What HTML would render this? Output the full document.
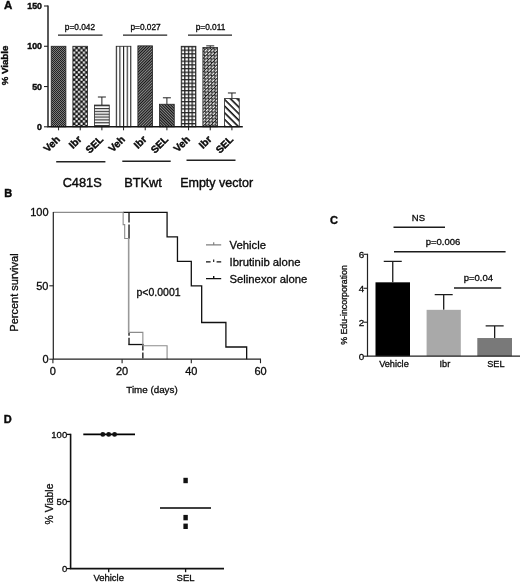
<!DOCTYPE html>
<html><head><meta charset="utf-8"><title>Figure</title>
<style>
html,body{margin:0;padding:0;background:#fff;}
body{width:520px;height:583px;overflow:hidden;}
svg{display:block;filter:blur(0.3px);}
text{font-family:"Liberation Sans",sans-serif;fill:#0a0a0a;stroke:#0a0a0a;stroke-width:0.3px;paint-order:stroke;}
.b{font-weight:bold;stroke-width:0.4px;}
</style></head><body>
<svg width="520" height="583" viewBox="0 0 520 583">
<defs>
<pattern id="p1" width="2" height="2" patternUnits="userSpaceOnUse"><rect width="2" height="2" fill="#7a7a7a"/><rect width="1" height="1" fill="#222"/><rect x="1" y="1" width="1" height="1" fill="#222"/></pattern>
<pattern id="p2" width="4.9" height="4.9" patternUnits="userSpaceOnUse" patternTransform="translate(72.9 46.6)"><rect width="4.9" height="4.9" fill="#111"/><rect x="0.15" y="0.15" width="2.15" height="2.15" fill="#fff"/><rect x="2.6" y="2.6" width="2.15" height="2.15" fill="#fff"/></pattern>
<pattern id="p3" width="3" height="2.85" patternUnits="userSpaceOnUse" patternTransform="translate(0 105.1)"><rect width="3" height="2.85" fill="#fff"/><rect width="3" height="1.2" fill="#333"/></pattern>
<pattern id="p4" width="3.67" height="3" patternUnits="userSpaceOnUse" patternTransform="translate(115.7 0)"><rect width="3.67" height="3" fill="#fff"/><rect width="1.1" height="3" fill="#222"/></pattern>
<pattern id="p5" width="2" height="2" patternUnits="userSpaceOnUse" patternTransform="rotate(45)"><rect width="2" height="2" fill="#a0a0a0"/><rect width="1.15" height="2" fill="#161616"/></pattern>
<pattern id="p6" width="2" height="2" patternUnits="userSpaceOnUse" patternTransform="rotate(-45)"><rect width="2" height="2" fill="#9a9a9a"/><rect width="1.15" height="2" fill="#111"/></pattern>
<pattern id="p7" width="3.67" height="3.67" patternUnits="userSpaceOnUse" patternTransform="translate(180.5 45.9)"><rect width="3.67" height="3.67" fill="#fff"/><rect width="3.67" height="1.3" fill="#222"/><rect width="1.3" height="3.67" fill="#222"/></pattern>
<pattern id="p8" width="4.6" height="4.8" patternUnits="userSpaceOnUse" patternTransform="rotate(-45)"><rect width="4.6" height="4.8" fill="#1c1c1c"/><rect x="0.2" y="0.55" width="3.3" height="1.35" fill="#fff"/><rect x="2.5" y="2.95" width="2.1" height="1.35" fill="#fff"/><rect x="0" y="2.95" width="1.2" height="1.35" fill="#fff"/></pattern>
<pattern id="p9" width="4.7" height="4.7" patternUnits="userSpaceOnUse" patternTransform="rotate(45)"><rect width="4.7" height="4.7" fill="#fff"/><rect width="4.7" height="1.6" fill="#111"/></pattern>
</defs>
<rect width="520" height="583" fill="#fff"/>

<g id="panelA">
<text class="b" x="4" y="8.8" font-size="11.5">A</text>
<rect x="51.20" y="46.27" width="14.7" height="80.53" fill="url(#p1)" stroke="#222" stroke-width="0.8"/>
<path d="M58.55 126.8V130.3" stroke="#222" stroke-width="1"/>
<text class="b" font-size="10.2" text-anchor="end" transform="translate(60.55 140.00) rotate(-45)">Veh</text>
<rect x="72.87" y="46.27" width="14.7" height="80.53" fill="url(#p2)" stroke="#222" stroke-width="0.8"/>
<path d="M80.22 126.8V130.3" stroke="#222" stroke-width="1"/>
<text class="b" font-size="10.2" text-anchor="end" transform="translate(82.22 140.00) rotate(-45)">Ibr</text>
<path d="M101.89 105.06V97.00M97.89 97.00H105.89" stroke="#222" stroke-width="1" fill="none"/>
<rect x="94.54" y="105.06" width="14.7" height="21.74" fill="url(#p3)" stroke="#222" stroke-width="0.8"/>
<path d="M101.89 126.8V130.3" stroke="#222" stroke-width="1"/>
<text class="b" font-size="10.2" text-anchor="end" transform="translate(103.89 140.00) rotate(-45)">SEL</text>
<rect x="116.21" y="46.27" width="14.7" height="80.53" fill="url(#p4)" stroke="#222" stroke-width="0.8"/>
<path d="M123.56 126.8V130.3" stroke="#222" stroke-width="1"/>
<text class="b" font-size="10.2" text-anchor="end" transform="translate(125.56 140.00) rotate(-45)">Veh</text>
<rect x="137.88" y="45.86" width="14.7" height="80.94" fill="url(#p5)" stroke="#222" stroke-width="0.8"/>
<path d="M145.23 126.8V130.3" stroke="#222" stroke-width="1"/>
<text class="b" font-size="10.2" text-anchor="end" transform="translate(147.23 140.00) rotate(-45)">Ibr</text>
<path d="M166.90 104.25V97.81M162.90 97.81H170.90" stroke="#222" stroke-width="1" fill="none"/>
<rect x="159.55" y="104.25" width="14.7" height="22.55" fill="url(#p6)" stroke="#222" stroke-width="0.8"/>
<path d="M166.90 126.8V130.3" stroke="#222" stroke-width="1"/>
<text class="b" font-size="10.2" text-anchor="end" transform="translate(168.90 140.00) rotate(-45)">SEL</text>
<rect x="181.22" y="46.27" width="14.7" height="80.53" fill="url(#p7)" stroke="#222" stroke-width="0.8"/>
<path d="M188.57 126.8V130.3" stroke="#222" stroke-width="1"/>
<text class="b" font-size="10.2" text-anchor="end" transform="translate(190.57 140.00) rotate(-45)">Veh</text>
<path d="M210.24 47.47V45.86M206.24 45.86H214.24" stroke="#222" stroke-width="1" fill="none"/>
<rect x="202.89" y="47.47" width="14.7" height="79.33" fill="url(#p8)" stroke="#222" stroke-width="0.8"/>
<path d="M210.24 126.8V130.3" stroke="#222" stroke-width="1"/>
<text class="b" font-size="10.2" text-anchor="end" transform="translate(212.24 140.00) rotate(-45)">Ibr</text>
<path d="M231.91 98.61V92.98M227.91 92.98H235.91" stroke="#222" stroke-width="1" fill="none"/>
<rect x="224.56" y="98.61" width="14.7" height="28.19" fill="url(#p9)" stroke="#222" stroke-width="0.8"/>
<path d="M231.91 126.8V130.3" stroke="#222" stroke-width="1"/>
<text class="b" font-size="10.2" text-anchor="end" transform="translate(233.91 140.00) rotate(-45)">SEL</text>
<path d="M48.0 5.5V126.8H242.8" stroke="#151515" stroke-width="1.4" fill="none"/>
<path d="M44.0 126.80H48.0" stroke="#222" stroke-width="1.1"/>
<text class="b" font-size="8.8" text-anchor="end" x="42.0" y="130.00">0</text>
<path d="M44.0 86.53H48.0" stroke="#222" stroke-width="1.1"/>
<text class="b" font-size="8.8" text-anchor="end" x="42.0" y="89.73">50</text>
<path d="M44.0 46.27H48.0" stroke="#222" stroke-width="1.1"/>
<text class="b" font-size="8.8" text-anchor="end" x="42.0" y="49.47">100</text>
<path d="M44.0 6.00H48.0" stroke="#222" stroke-width="1.1"/>
<text class="b" font-size="8.8" text-anchor="end" x="42.0" y="9.20">150</text>
<text class="b" font-size="9.7" text-anchor="middle" transform="translate(7.8 65.5) rotate(-90)">% Viable</text>
<path d="M58 35.1H102.5" stroke="#222" stroke-width="1.3"/>
<text font-size="8.3" text-anchor="middle" x="79.95" y="29.6">p=0.042</text>
<path d="M123 35.1H167.2" stroke="#222" stroke-width="1.3"/>
<text font-size="8.3" text-anchor="middle" x="145.6" y="29.6">p=0.027</text>
<path d="M188 35.1H232" stroke="#222" stroke-width="1.3"/>
<text font-size="8.3" text-anchor="middle" x="210.5" y="29.6">p=0.011</text>
<path d="M56.2 161.8H105.4" stroke="#222" stroke-width="1.4"/>
<text font-size="12.8" style="stroke-width:0.4px" text-anchor="middle" x="82.2" y="187">C481S</text>
<path d="M122.3 161.2H170.7" stroke="#222" stroke-width="1.4"/>
<text font-size="12.8" style="stroke-width:0.4px" text-anchor="middle" x="143" y="187">BTKwt</text>
<path d="M186.5 160.2H235.5" stroke="#222" stroke-width="1.4"/>
<text font-size="12.5" style="stroke-width:0.4px" text-anchor="middle" x="216.6" y="187">Empty vector</text>
</g>
<g id="panelB">
<text class="b" x="4.2" y="197.2" font-size="11">B</text>
<path d="M129.02 212.40V238.82" stroke="#111" stroke-width="1.3" fill="none" stroke-dasharray="10 2 20 2"/>
<path d="M129.02 332.78V344.52" stroke="#111" stroke-width="1.3" fill="none" stroke-dasharray="3 2 20 2"/>
<path d="M128.32 344.52H143.56" stroke="#111" stroke-width="1.3" fill="none"/>
<path d="M142.86 344.52V359.20" stroke="#111" stroke-width="1.3" fill="none" stroke-dasharray="6 2"/>
<path d="M123.14 212.40 L167.08 212.40 L167.08 236.92 L177.46 236.92 L177.46 261.28 L191.30 261.28 L191.30 285.80 L201.68 285.80 L201.68 322.50 L225.90 322.50 L225.90 347.02 L246.66 347.02 L246.66 359.20" stroke="#111" stroke-width="1.3" fill="none"/>
<path d="M53.25 212.40 L123.14 212.40 L123.14 224.58 L124.69 224.58 L124.69 238.53 L128.67 238.53" stroke="#8c8c8c" stroke-width="1.1" fill="none"/>
<path d="M128.67 238.53V332.78" stroke="#999" stroke-width="1.6" fill="none"/>
<path d="M128.67 332.34 L142.86 332.34 L142.86 345.69 L167.08 345.69 L167.08 359.20" stroke="#8c8c8c" stroke-width="1.1" fill="none"/>
<path d="M53.3 211.9V359.2H261.00" stroke="#222" stroke-width="1.2" fill="none"/>
<path d="M49.3 359.20H53.3" stroke="#222" stroke-width="1.1"/>
<text font-size="11" text-anchor="end" x="48.5" y="362.90">0</text>
<path d="M49.3 285.80H53.3" stroke="#222" stroke-width="1.1"/>
<text font-size="11" text-anchor="end" x="48.5" y="289.50">50</text>
<text font-size="11" text-anchor="end" x="48.5" y="216.10">100</text>
<path d="M52.90 359.2V363.2" stroke="#222" stroke-width="1.1"/>
<text font-size="11" text-anchor="middle" x="52.90" y="375.0">0</text>
<path d="M122.10 359.2V363.2" stroke="#222" stroke-width="1.1"/>
<text font-size="11" text-anchor="middle" x="122.10" y="375.0">20</text>
<path d="M191.30 359.2V363.2" stroke="#222" stroke-width="1.1"/>
<text font-size="11" text-anchor="middle" x="191.30" y="375.0">40</text>
<path d="M260.50 359.2V363.2" stroke="#222" stroke-width="1.1"/>
<text font-size="11" text-anchor="middle" x="260.50" y="375.0">60</text>
<text font-size="11" text-anchor="middle" transform="translate(18.0 292.5) rotate(-90)">Percent survival</text>
<text font-size="9.8" text-anchor="middle" x="152" y="392.6">Time (days)</text>
<text font-size="10.5" x="136.5" y="296">p&lt;0.0001</text>
<path d="M206 244.8H221.2M213.7 242.3V244.8" stroke="#808080" stroke-width="1.2" fill="none"/>
<path d="M206 261.9H210.6M216.6 261.9H221.2" stroke="#111" stroke-width="1.4" fill="none"/><path d="M213.7 259.4V262" stroke="#111" stroke-width="1.1"/>
<path d="M206 278.6H221.2M213.7 276V278.6" stroke="#111" stroke-width="1.4" fill="none"/>
<text font-size="11.3" x="229.5" y="248.8">Vehicle</text>
<text font-size="11.3" x="229.5" y="265.9">Ibrutinib alone</text>
<text font-size="11.3" x="229.5" y="282.6">Selinexor alone</text>
</g>
<g id="panelC">
<text class="b" x="330" y="223.7" font-size="11">C</text>
<path d="M392.75 282.32V261.43M383.75 261.43H401.75" stroke="#1c1c1c" stroke-width="1.3" fill="none"/>
<rect x="375.5" y="282.32" width="34.50" height="73.88" fill="#000"/>
<text font-size="9.2" text-anchor="middle" x="393.95" y="367.20">Vehicle</text>
<path d="M443.70 309.84V294.72M434.70 294.72H452.70" stroke="#1c1c1c" stroke-width="1.3" fill="none"/>
<rect x="426.6" y="309.84" width="34.20" height="46.36" fill="#a9a9a9"/>
<text font-size="9.2" text-anchor="middle" x="444.90" y="367.20">Ibr</text>
<path d="M494.65 338.03V325.80M485.65 325.80H503.65" stroke="#1c1c1c" stroke-width="1.3" fill="none"/>
<rect x="477.3" y="338.03" width="34.70" height="18.17" fill="#797979"/>
<text font-size="9.2" text-anchor="middle" x="495.85" y="367.20">SEL</text>
<path d="M367.5 253.8V356.2H520" stroke="#222" stroke-width="1.2" fill="none"/>
<path d="M363.5 356.20H367.5" stroke="#222" stroke-width="1.1"/>
<text font-size="9.8" text-anchor="end" x="364.1" y="359.70">0</text>
<path d="M363.5 322.23H367.5" stroke="#222" stroke-width="1.1"/>
<text font-size="9.8" text-anchor="end" x="364.1" y="325.73">2</text>
<path d="M363.5 288.27H367.5" stroke="#222" stroke-width="1.1"/>
<text font-size="9.8" text-anchor="end" x="364.1" y="291.77">4</text>
<path d="M363.5 254.30H367.5" stroke="#222" stroke-width="1.1"/>
<text font-size="9.8" text-anchor="end" x="364.1" y="257.80">6</text>
<text font-size="8.8" text-anchor="middle" transform="translate(346.8 305) rotate(-90)">% Edu-incorporation</text>
<path d="M393.5 227.2H445" stroke="#1c1c1c" stroke-width="1.4"/>
<text font-size="9.5" text-anchor="middle" x="418.4" y="221.2">NS</text>
<path d="M394 251.7H505.6" stroke="#1c1c1c" stroke-width="1.4"/>
<text font-size="9.5" text-anchor="middle" x="443" y="244.89999999999998">p=0.006</text>
<path d="M454 288H501.2" stroke="#1c1c1c" stroke-width="1.4"/>
<text font-size="9.5" text-anchor="middle" x="478.3" y="281.2">p=0.04</text>
</g>
<g id="panelD">
<text class="b" x="3.8" y="422.8" font-size="11">D</text>
<path d="M70.6 433.79999999999995V568.6H224" stroke="#111" stroke-width="1.6" fill="none"/>
<path d="M66.8 568.60H70.6" stroke="#111" stroke-width="1.3"/>
<text font-size="9.5" text-anchor="end" x="67.19999999999999" y="572.10">0</text>
<path d="M66.8 501.50H70.6" stroke="#111" stroke-width="1.3"/>
<text font-size="9.5" text-anchor="end" x="67.19999999999999" y="505.00">50</text>
<path d="M66.8 434.40H70.6" stroke="#111" stroke-width="1.3"/>
<text font-size="9.5" text-anchor="end" x="67.19999999999999" y="437.90">100</text>
<path d="M108.7 568.6V572.2" stroke="#111" stroke-width="1.3"/>
<text font-size="9.5" text-anchor="middle" x="108.7" y="581.1">Vehicle</text>
<path d="M185.6 568.6V572.2" stroke="#111" stroke-width="1.3"/>
<text font-size="9.5" text-anchor="middle" x="185.6" y="581.1">SEL</text>
<text font-size="10.4" text-anchor="middle" transform="translate(52.8 504) rotate(-90)">% Viable</text>
<path d="M83.3 434.4H135" stroke="#000" stroke-width="1.6"/>
<circle cx="102.8" cy="434.4" r="2.4" fill="#111"/>
<circle cx="108.7" cy="434.4" r="2.4" fill="#111"/>
<circle cx="114.6" cy="434.4" r="2.4" fill="#111"/>
<path d="M160 508H211" stroke="#000" stroke-width="1.6"/>
<rect x="183.4" y="477.8" width="4.4" height="5.4" fill="#111"/>
<rect x="183.4" y="514.9" width="4.4" height="5.4" fill="#111"/>
<rect x="183.4" y="523.5999999999999" width="4.4" height="5.4" fill="#111"/>
</g>
</svg></body></html>
